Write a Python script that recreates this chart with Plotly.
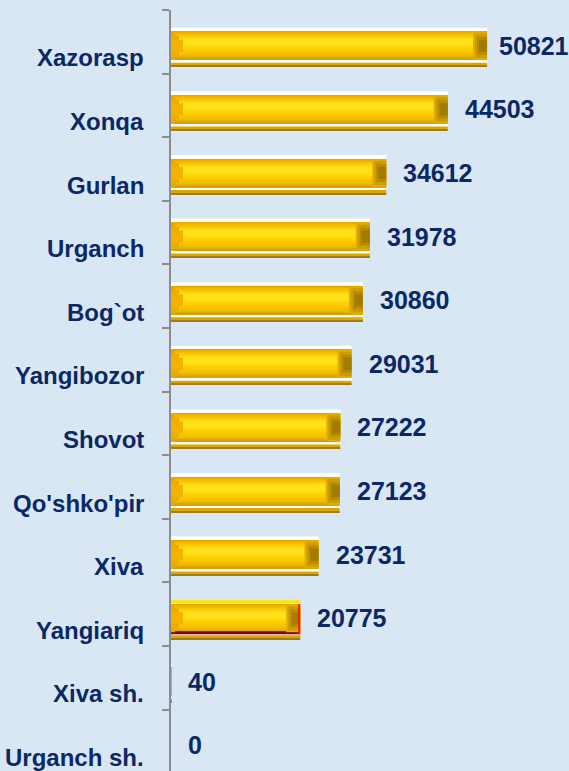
import plotly.graph_objects as go

categories = ["Xazorasp", "Xonqa", "Gurlan", "Urganch", "Bog`ot", "Yangibozor",
              "Shovot", "Qo'shko'pir", "Xiva", "Yangiariq", "Xiva sh.", "Urganch sh."]
values = [50821, 44503, 34612, 31978, 30860, 29031, 27222, 27123, 23731, 20775, 40, 0]
highlight = "Yangiariq"

n = len(categories)
pos = [n - 1 - k for k in range(n)]

W, H = 569, 771
ML, MT = 171, 10
X_MAX = 64000
Y_RANGE = [-0.465, n - 0.5]
UNIT = (H - MT) / (Y_RANGE[1] - Y_RANGE[0])      # px per category
XPX = (W - ML) / X_MAX                           # px per value unit

TEXT = "#0a2866"
FONT = "Liberation Sans, Arial, sans-serif"

fig = go.Figure()


def layer(p1, p2, colors, xs=None, bases=None):
    """horizontal band from p1 to p2 px below slot centre"""
    fig.add_trace(go.Bar(
        y=pos, x=values if xs is None else xs, base=bases, orientation="h",
        offset=-p2 / UNIT, width=(p2 - p1) / UNIT,
        marker=dict(color=colors, line=dict(width=0)),
        hoverinfo="skip", showlegend=False))


def per(c_norm, c_hi):
    return [c_hi if c == highlight else c_norm for c in categories]


def hex2rgb(h):
    h = h.lstrip("#")
    return [int(h[i:i + 2], 16) for i in (0, 2, 4)]


def grad(stops, p):
    for (pa, ca), (pb, cb) in zip(stops, stops[1:]):
        if pa <= p <= pb:
            t = (p - pa) / (pb - pa) if pb > pa else 0
            a, b = hex2rgb(ca), hex2rgb(cb)
            return "rgb(%d,%d,%d)" % tuple(round(a[i] + (b[i] - a[i]) * t) for i in range(3))
    return stops[-1][1]


def tail(width_px):
    return ([min(v, width_px / XPX) for v in values],
            [max(v - width_px / XPX, 0) for v in values])


# white "top face" / frame
layer(-14, 25, per("#ffffff", "#ffe600"))
layer(-11, 23, per("#ffffff", "#f2f2f2"))
# lower shadow strip
layer(21, 25, "#dca600")
layer(24, 25, "#a97c00")
# gold body: smooth vertical gradient
stops = [(-10, "#e6a300"), (-6, "#f7c200"), (-1, "#ffe21c"), (3, "#ffe21c"),
         (8, "#fdd000"), (14, "#f3be00"), (18, "#d69d00")]
for p in range(-10, 18):
    layer(p, p + 1.15, grad(stops, p + 0.5))
# highlight dark-red bottom edge
layer(17, 20, per("rgba(0,0,0,0)", "#8b0000"))

# right-end bevel (trapezoid approximation)
for (p1, p2, wpx, col) in [(-10, 18, 14, "#e0ad00"), (-8, 16, 12, "#cc9c00"),
                           (-5, 13, 10, "#b78c00"), (-2, 10, 8, "#a27c00")]:
    xs, bs = tail(wpx)
    layer(p1, p2, col, xs=xs, bases=bs)
xs, bs = tail(2)
layer(-10, 20, per("rgba(0,0,0,0)", "#ff1a00"), xs=xs, bases=bs)
# left-end bevel (chevron approximation)
for (p1, p2, wpx, col) in [(-10, 18, 4, "#eba700"), (-6, 14, 8, "#eeac00"),
                           (-2, 10, 12, "#f1b300")]:
    layer(p1, p2, col, xs=[min(v, wpx / XPX) for v in values])

annotations = []
for c, v, p in zip(categories, values, pos):
    annotations.append(dict(
        x=0, xref="paper", y=p, yref="y", text=c, showarrow=False,
        xanchor="right", yanchor="middle", xshift=-25, yshift=-16,
        font=dict(family=FONT, size=24, color=TEXT, weight="bold")))
    annotations.append(dict(
        x=v, xref="x", y=p, yref="y", text=str(v), showarrow=False,
        xanchor="left", yanchor="middle", xshift=10 if v > 50000 else 15, yshift=-4,
        font=dict(family=FONT, size=25, color=TEXT, weight="bold")))

fig.update_layout(
    width=W, height=H, barmode="overlay",
    margin=dict(l=ML, r=0, t=MT, b=0),
    paper_bgcolor="#d9e6f3", plot_bgcolor="rgba(0,0,0,0)",
    xaxis=dict(range=[0, X_MAX], visible=False, fixedrange=True),
    yaxis=dict(range=Y_RANGE, showline=True, linecolor="#8c8c8c", linewidth=2,
               tickmode="array", tickvals=[k + 0.5 for k in range(-1, n)],
               ticks="outside", ticklen=7, tickcolor="#8c8c8c", tickwidth=2,
               showticklabels=False, showgrid=False, zeroline=False, fixedrange=True),
    annotations=annotations, showlegend=False,
)

fig.write_html("out.html", config={"displayModeBar": False},
               post_script="document.body.style.margin='0';"
                           "document.body.style.background='#d9e6f3';")
